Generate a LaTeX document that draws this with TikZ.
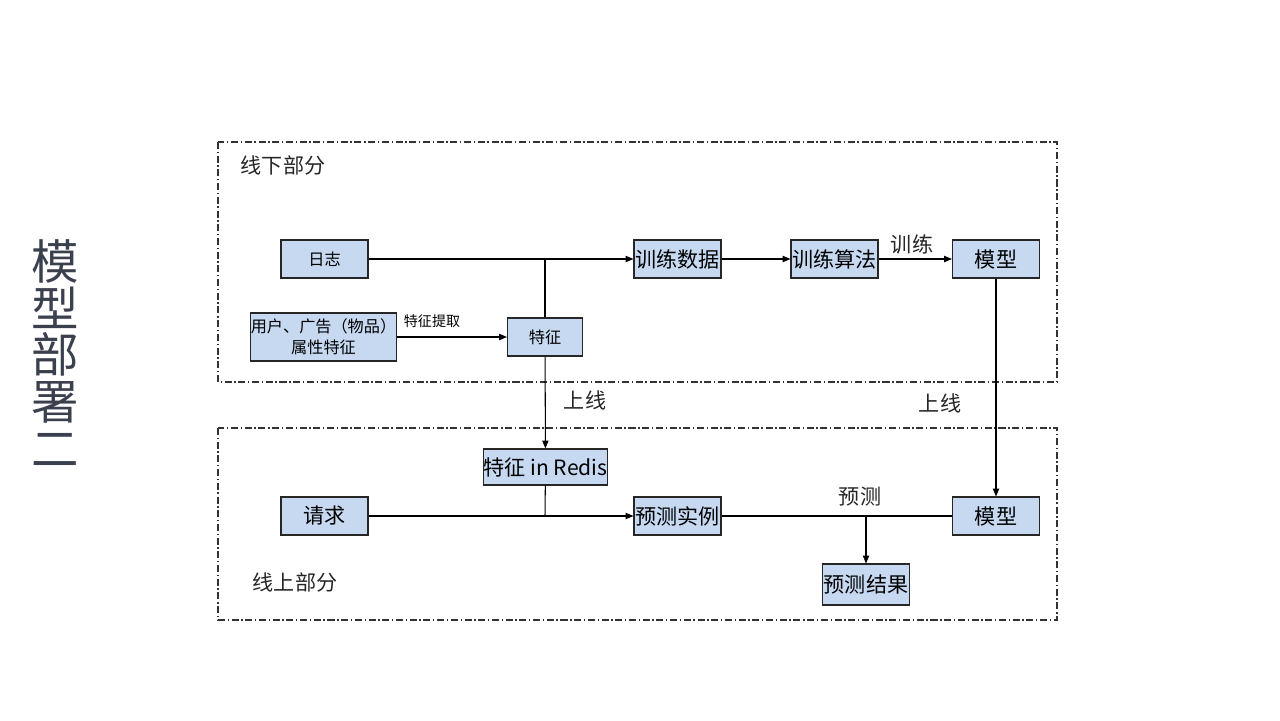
\documentclass[tikz,border=0pt]{standalone}
\usepackage{fontspec}
\setmainfont{Noto Sans CJK SC}
\usetikzlibrary{arrows.meta}
\definecolor{boxblue}{RGB}{198,217,241}
\definecolor{titlegray}{RGB}{59,64,78}

\begin{document}
\begin{tikzpicture}[x=0.02cm,y=-0.02cm,
  blk/.style={draw=black!85, fill=boxblue, line width=0.6pt, inner sep=0pt,
    minimum width=1.74cm, minimum height=0.76cm, font=\fontsize{12}{14}\selectfont},
  blksmall/.style={blk, font=\fontsize{9.2}{12}\selectfont},
  lbl/.style={inner sep=0pt, text=black!85, font=\fontsize{12}{14}\selectfont},
  part/.style={draw=black!80, line width=0.6pt, dash pattern=on 4pt off 1.5pt on 0.8pt off 1.5pt},
  conn/.style={draw=black, line width=0.6pt},
  arr/.style={conn, -{Triangle[length=4.5pt,width=3.6pt]}}]
\useasboundingbox (0,0) rectangle (1280,720);

\node [inner sep=0pt, align=center, text=titlegray, font=\fontsize{27}{26.6}\selectfont] (title) at (55,353) {模\\型\\部\\署\\二};

\draw [part] (218,142) rectangle (1057,382);
\draw [part] (218,428) rectangle (1057,620);
\node [lbl] (offline) at (283,165) {线下部分};
\node [lbl] (online)  at (295,582) {线上部分};

\node [blksmall] (log)   at (324.5,259) {日志};
\node [blksmall, minimum width=2.86cm, minimum height=0.96cm, align=center] (attr) at (323.5,337) {用户、广告（物品）\\属性特征};
\node [blksmall, minimum width=1.5cm] (feat) at (545,337) {特征};
\node [blk] (traindata) at (677.5,259) {训练数据};
\node [blk] (algo)      at (834.5,259) {训练算法};
\node [blk] (model)     at (996,259)   {模型};

\node [blk, minimum width=2.46cm, minimum height=0.72cm] (redis) at (545.5,467) {特征 in Redis};
\node [blk] (request)   at (324.5,516) {请求};
\node [blk] (predinst)  at (677.5,516) {预测实例};
\node [blk] (onmodel)   at (996,516)   {模型};
\node [blk, minimum height=0.82cm] (result) at (866,584.5) {预测结果};

\coordinate (jlog)  at (545,259);
\coordinate (jreq)  at (545,516);
\coordinate (jpred) at (866,516);

\draw [arr]  (log) -- (traindata);
\draw [conn] (feat) -- (jlog);
\draw [arr]  (attr) -- (feat);
\node [inner sep=0pt, font=\fontsize{8}{10}\selectfont] (extract) at (432,321) {特征提取};
\draw [arr]  (traindata) -- (algo);
\draw [arr]  (algo) -- (model);
\node [lbl] (trainlbl) at (912,244) {训练};

\draw [arr]  (feat) -- (redis);
\node [lbl] (up1) at (585,400) {上线};
\draw [arr]  (model) -- (onmodel);
\node [lbl] (up2) at (940,403) {上线};

\draw [arr]  (request) -- (predinst);
\draw [conn] (redis) -- (jreq);
\draw [conn] (predinst) -- (onmodel);
\draw [arr]  (jpred) -- (result);
\node [lbl] (predlbl) at (860,497) {预测};
\end{tikzpicture}
\end{document}
